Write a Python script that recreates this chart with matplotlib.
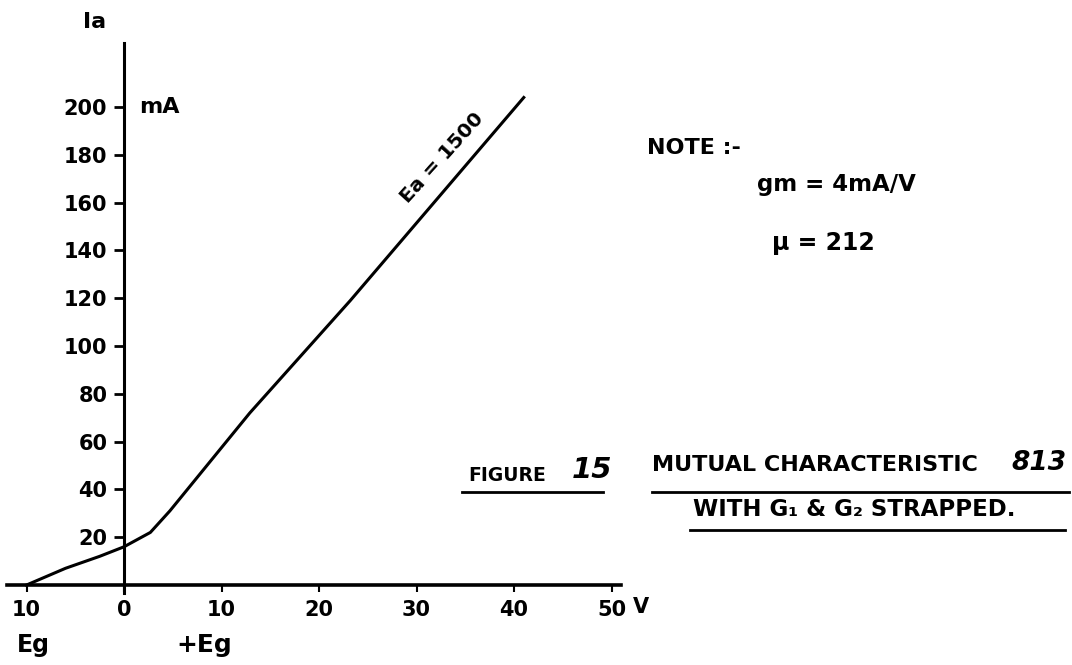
import numpy as np
import matplotlib
matplotlib.use('Agg')
import matplotlib.pyplot as plt

# mutual characteristic, Ea = 1500 V
eg = [-10, -6, -2.5, 0, 2.7, 4.7, 6.1, 12.9, 23.2, 41]
ia = [0, 7, 12, 16, 22, 31, 38, 72, 119, 204]

xticks = [-10, 0, 10, 20, 30, 40, 50]
xticklabels = ['10', '0', '10', '20', '30', '40', '50']
yticks = [20, 40, 60, 80, 100, 120, 140, 160, 180, 200]

plt.rcParams['font.family'] = ['DejaVu Sans']
plt.rcParams['font.weight'] = 'bold'

fig = plt.figure(figsize=(10.72, 6.65), dpi=100)
ax = fig.add_axes([0, 0, 1, 1])
ax.set_xlim(-12.72, 97.23)
ax.set_ylim(-33.47, 244.8)
ax.patch.set_visible(False)

# axes through the origin
for s in ['top', 'right']:
    ax.spines[s].set_visible(False)
ax.spines['left'].set_position(('data', 0))
ax.spines['bottom'].set_position(('data', 0))
ax.spines['left'].set_bounds(-3.3, 226.8)
ax.spines['bottom'].set_bounds(-12.0, 51.0)
ax.spines['left'].set_linewidth(2.2)
ax.spines['bottom'].set_linewidth(2.6)

ax.set_xticks(xticks)
ax.set_xticklabels(xticklabels)
ax.set_yticks(yticks)
ax.tick_params(axis='x', direction='out', length=5, width=1.5, pad=6, labelsize=15)
ax.tick_params(axis='y', direction='out', length=7, width=2, pad=5, labelsize=15)

ax.plot(eg, ia, color='black', lw=2.2, solid_joinstyle='round')

ax.text(52.2, -9.0, 'V', fontsize=15, ha='left', va='center')
ax.text(-3.0, 235.6, 'Ia', fontsize=16, ha='center', va='center')
ax.text(1.6, 200, 'mA', fontsize=16, ha='left', va='center')
ax.text(-11.0, -25.1, 'Eg', fontsize=17, ha='left', va='center')
ax.text(5.4, -25.1, '+Eg', fontsize=18, ha='left', va='center')
ax.text(32.6, 178.7, 'Ea = 1500', fontsize=14.5, rotation=48,
        ha='center', va='center', rotation_mode='anchor')

ax.text(53.6, 182.8, 'NOTE :-', fontsize=16, ha='left', va='center')
ax.text(64.9, 167.4, 'gm = 4mA/V', fontsize=16.5, ha='left', va='center')
ax.text(66.5, 143.1, '\u03bc = 212', fontsize=17, ha='left', va='center')

# caption
ax.text(35.3, 46.0, 'FIGURE', fontsize=13.5, ha='left', va='center')
ax.text(45.9, 48.3, '15', fontsize=21, style='italic', ha='left', va='center')
ax.plot([34.7, 49.1], [38.9, 38.9], color='black', lw=2)
ax.text(54.2, 50.2, 'MUTUAL CHARACTERISTIC', fontsize=16, ha='left', va='center')
ax.text(93.8, 51.0, '813', fontsize=19, style='italic', ha='center', va='center')
ax.plot([54.2, 96.9], [38.9, 38.9], color='black', lw=2)
ax.text(58.4, 31.4, 'WITH G\u2081 & G\u2082 STRAPPED.', fontsize=16.5, ha='left', va='center')
ax.plot([58.1, 96.5], [23.0, 23.0], color='black', lw=2)

fig.savefig('out.png', dpi=100)
